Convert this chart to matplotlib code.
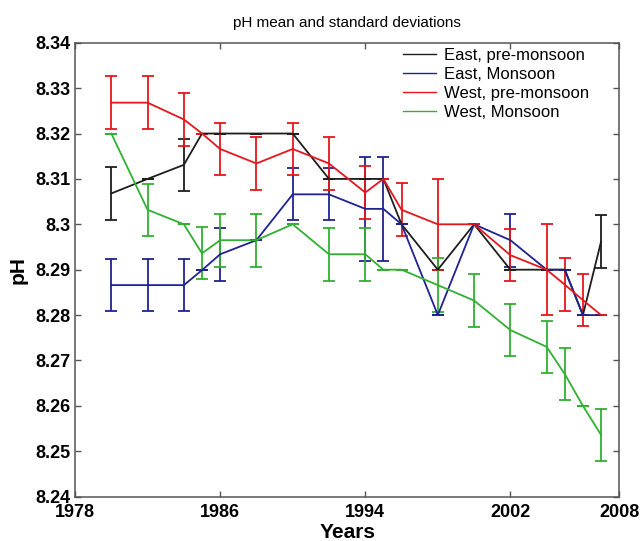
import matplotlib
matplotlib.use('Agg')
import matplotlib.pyplot as plt

plt.rcParams['font.family'] = ['Liberation Sans', 'DejaVu Sans']

years = [1980, 1982, 1984, 1985, 1986, 1988, 1990, 1992, 1994, 1995,
         1996, 1998, 2000, 2002, 2004, 2005, 2006, 2007]

# East, pre-monsoon
east_pre = [8.3068, 8.3100, 8.3131, 8.32, 8.32, 8.32, 8.32, 8.31, 8.31, 8.31,
            8.30, 8.29, 8.30, 8.29, 8.29, 8.29, 8.28, 8.2962]
east_pre_sd = [0.0059, 0, 0.0058, 0, 0, 0, 0, 0, 0, 0,
               0, 0, 0, 0, 0, 0, 0, 0.0058]

# East, Monsoon
east_mon = [8.2866, 8.2866, 8.2866, 8.2899, 8.2934, 8.2965, 8.3066, 8.3066, 8.3034, 8.3034,
            8.30, 8.28, 8.30, 8.2965, 8.29, 8.29, 8.28, 8.28]
east_mon_sd = [0.0057, 0.0057, 0.0057, 0, 0.0058, 0, 0.0057, 0.0057, 0.0115, 0.0115,
               0, 0, 0, 0.0058, 0, 0, 0, 0]

# West, pre-monsoon
west_pre = [8.3268, 8.3268, 8.3231, 8.32, 8.3166, 8.3134, 8.3166, 8.3134, 8.3070, 8.31,
            8.3032, 8.30, 8.30, 8.2932, 8.29, 8.2867, 8.2833, 8.28]
west_pre_sd = [0.0058, 0.0058, 0.0058, 0, 0.0057, 0.0058, 0.0057, 0.0058, 0.0058, 0,
               0.0058, 0.01, 0, 0.0058, 0.01, 0.0058, 0.0058, 0]

# West, Monsoon
west_mon = [8.32, 8.3032, 8.30, 8.2936, 8.2965, 8.2965, 8.30, 8.2934, 8.2934, 8.29,
            8.29, 8.2866, 8.2832, 8.2767, 8.2730, 8.2670, 8.2600, 8.2536]
west_mon_sd = [0, 0.0057, 0, 0.0057, 0.0058, 0.0058, 0, 0.0058, 0.0058, 0,
               0, 0.006, 0.0058, 0.0058, 0.0057, 0.0057, 0, 0.0058]

labels = ['East, pre-monsoon', 'East, Monsoon', 'West, pre-monsoon', 'West, Monsoon']
colors = ['#1e1e1e', '#1f2390', '#e5161c', '#32b032']

fig = plt.figure(figsize=(6.44, 5.41), dpi=100)
ax = fig.add_axes([0.1165, 0.082, 0.845, 0.839])

series = [(east_pre, east_pre_sd), (east_mon, east_mon_sd),
          (west_pre, west_pre_sd), (west_mon, west_mon_sd)]
handles = []
for (vals, sd), col in zip(series, colors):
    c = ax.errorbar(years, vals, yerr=sd, color=col, lw=1.3, elinewidth=1.3,
                    capsize=4.3, capthick=1.3)
    handles.append(c[0])

ax.set_xlim(1978, 2008)
ax.set_ylim(8.24, 8.34)
ax.set_xticks([1978, 1986, 1994, 2002, 2008])
yt = [8.24, 8.25, 8.26, 8.27, 8.28, 8.29, 8.30, 8.31, 8.32, 8.33, 8.34]
ax.set_yticks(yt)
ax.set_yticklabels(['8.24', '8.25', '8.26', '8.27', '8.28', '8.29', '8.3',
                    '8.31', '8.32', '8.33', '8.34'])
ax.tick_params(direction='in', length=4, width=1, color='#555555',
               top=True, right=True, labelsize=13, pad=3)
ax.tick_params(axis='x', pad=5)
for lab in ax.get_xticklabels() + ax.get_yticklabels():
    lab.set_fontweight('bold')
for sp in ax.spines.values():
    sp.set_color('#555555')
    sp.set_linewidth(1.1)

ax.set_title('pH mean and standard deviations', fontsize=11, pad=11)
ax.set_xlabel('Years', fontsize=15, fontweight='bold', labelpad=2)
ax.set_ylabel('pH', fontsize=15, fontweight='bold', labelpad=6)

leg = ax.legend(handles, labels, loc='upper left', bbox_to_anchor=(0.603, 0.988),
                frameon=False, fontsize=12, handlelength=2.0, handletextpad=0.45,
                labelspacing=0.24, borderpad=0, borderaxespad=0)
for h in leg.get_lines():
    h.set_linewidth(1.0)

fig.savefig('out.png', dpi=100, facecolor='white')
